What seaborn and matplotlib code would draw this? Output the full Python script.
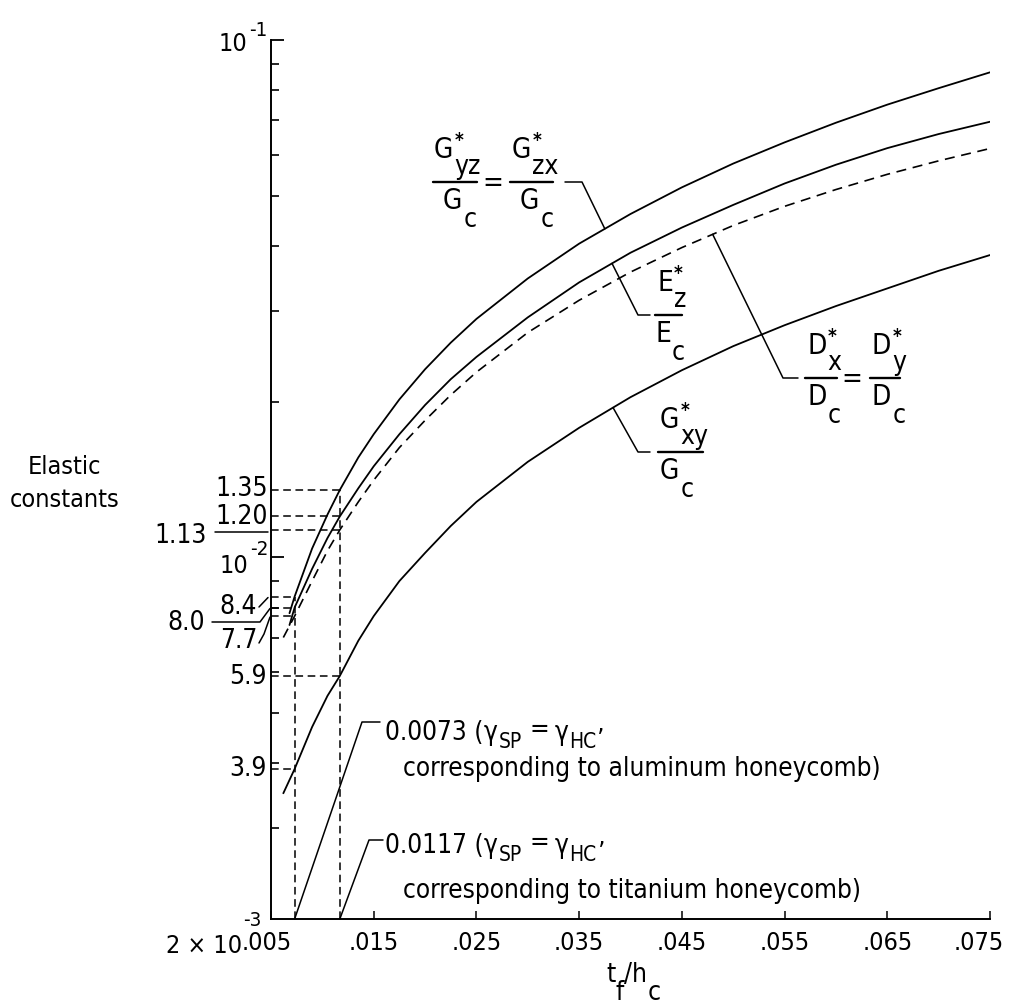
import numpy as np
import pandas as pd
import matplotlib
matplotlib.use("Agg")
import matplotlib.pyplot as plt
from matplotlib.lines import Line2D
from matplotlib.ticker import FixedLocator, NullFormatter
from matplotlib.transforms import ScaledTranslation
from matplotlib import font_manager
import seaborn as sns

# ---- data: t_f/h_c versus normalised elastic constants ----
tf_gyz = [0.0068, 0.0073, 0.009, 0.0105, 0.0117, 0.0135, 0.015, 0.0175, 0.020, 0.0225,
          0.025, 0.030, 0.035, 0.040, 0.045, 0.050, 0.055, 0.060, 0.065, 0.070, 0.075]
gyz = [0.0078, 0.0084, 0.0104, 0.0121, 0.0135, 0.0156, 0.0173, 0.0202, 0.0231, 0.0260,
       0.0289, 0.0346, 0.0404, 0.0461, 0.0519, 0.0577, 0.0634, 0.0692, 0.0750, 0.0807, 0.0866]

tf_ez = [0.0068, 0.0073, 0.009, 0.0105, 0.0117, 0.0135, 0.015, 0.0175, 0.020, 0.0225,
         0.025, 0.030, 0.035, 0.040, 0.045, 0.050, 0.055, 0.060, 0.065, 0.070, 0.075]
ez = [0.0074, 0.0080, 0.0095, 0.0109, 0.0120, 0.0136, 0.0150, 0.0173, 0.0197, 0.0221,
      0.0244, 0.0291, 0.0340, 0.0388, 0.0434, 0.0480, 0.0528, 0.0574, 0.0618, 0.0658, 0.0695]

tf_dx = [0.0062, 0.0073, 0.009, 0.0105, 0.0117, 0.0135, 0.015, 0.0175, 0.020, 0.0225,
         0.025, 0.030, 0.035, 0.040, 0.045, 0.050, 0.055, 0.060, 0.065, 0.070, 0.075]
dx = [0.0070, 0.0077, 0.0090, 0.0103, 0.0113, 0.0128, 0.0141, 0.0163, 0.0184, 0.0206,
      0.0228, 0.0272, 0.0314, 0.0356, 0.0397, 0.0438, 0.0477, 0.0514, 0.0550, 0.0584, 0.0617]

tf_gxy = [0.0062, 0.0073, 0.009, 0.0105, 0.0117, 0.0135, 0.015, 0.0175, 0.020, 0.0225,
          0.025, 0.030, 0.035, 0.040, 0.045, 0.050, 0.055, 0.060, 0.065, 0.070, 0.075]
gxy = [0.0035, 0.0039, 0.0047, 0.0054, 0.0059, 0.0069, 0.0077, 0.0090, 0.0102, 0.0115,
       0.0128, 0.0153, 0.0178, 0.0204, 0.0230, 0.0256, 0.0281, 0.0306, 0.0331, 0.0358, 0.0384]

# marked design points
t_al, t_ti = 0.0073, 0.0117
marks_al = {"gyz": 0.0084, "ez": 0.0080, "dx": 0.0077, "gxy": 0.0039}
marks_ti = {"gyz": 0.0135, "ez": 0.0120, "dx": 0.0113, "gxy": 0.0059}

xticks = [0.005, 0.015, 0.025, 0.035, 0.045, 0.055, 0.065, 0.075]
xticklabels = [".005", ".015", ".025", ".035", ".045", ".055", ".065", ".075"]
y_min, y_max = 0.002, 0.1

# ---- style ----
sns.set_theme(style="ticks")
ttf = font_manager.fontManager.ttflist
names = {f.name for f in ttf}
if "Liberation Sans Narrow" in names:
    FAMILY, STRETCH, K = "Liberation Sans Narrow", "normal", 1.0
elif any(f.name == "DejaVu Sans" and str(f.stretch) in ("condensed", "semi-condensed") for f in ttf):
    FAMILY, STRETCH, K = "DejaVu Sans", "condensed", 0.86
else:
    FAMILY, STRETCH, K = "DejaVu Sans", "normal", 0.78
plt.rcParams["font.family"] = [FAMILY, "DejaVu Sans"]
plt.rcParams["font.stretch"] = STRETCH
plt.rcParams["mathtext.fontset"] = "custom"
for key in ("mathtext.rm", "mathtext.it", "mathtext.bf", "mathtext.sf"):
    plt.rcParams[key] = FAMILY

FS_YLAB = 22 * K
FS_TICK = 21 * K
FS_TEXT = 23 * K * 0.95
FS_FRAC = 20 * (K / 0.86)
INK = "black"

W, H = 1010, 1007
fig = plt.figure(figsize=(W / 100, H / 100), dpi=100)
fig.patch.set_facecolor("white")
ax = fig.add_axes([271 / W, 1 - 919 / H, (990 - 271) / W, (919 - 40) / H])
ax.set_facecolor("white")

df = pd.concat([
    pd.DataFrame({"tf": tf_gyz, "value": gyz, "curve": "gyz"}),
    pd.DataFrame({"tf": tf_ez, "value": ez, "curve": "ez"}),
    pd.DataFrame({"tf": tf_dx, "value": dx, "curve": "dx"}),
    pd.DataFrame({"tf": tf_gxy, "value": gxy, "curve": "gxy"}),
])

for name in ("gyz", "ez", "gxy"):
    sub = df[df.curve == name]
    sns.lineplot(data=sub, x="tf", y="value", ax=ax, color=INK, lw=1.3,
                 estimator=None, sort=False)
sub = df[df.curve == "dx"]
sns.lineplot(data=sub, x="tf", y="value", ax=ax, color=INK, lw=1.2,
             estimator=None, sort=False, linestyle=(0, (6, 4)))

ax.set_yscale("log")
ax.set_xlim(0.005, 0.075)
ax.set_ylim(y_min, y_max)
ax.set_xlabel("")
ax.set_ylabel("")

# dashed read-off lines
dash = dict(color=INK, lw=1.1, linestyle=(0, (5, 3)), clip_on=False)
for t, marks in ((t_al, marks_al), (t_ti, marks_ti)):
    for v in marks.values():
        ax.plot([0.005, t], [v, v], **dash)
    ax.plot([t, t], [y_min, max(marks.values())], **dash)

# axes and ticks
for s in ("top", "right"):
    ax.spines[s].set_visible(False)
for s in ("left", "bottom"):
    ax.spines[s].set_linewidth(1.4)
    ax.spines[s].set_color(INK)
ax.yaxis.set_major_locator(FixedLocator([0.01, 0.1]))
ax.yaxis.set_minor_locator(FixedLocator([0.003, 0.004, 0.005, 0.006, 0.007, 0.008, 0.009,
                                         0.02, 0.03, 0.04, 0.05, 0.06, 0.07, 0.08, 0.09]))
ax.yaxis.set_major_formatter(NullFormatter())
ax.yaxis.set_minor_formatter(NullFormatter())
ax.tick_params(axis="y", which="major", direction="in", length=9, width=1.3, color=INK)
ax.tick_params(axis="y", which="minor", direction="in", length=6, width=1.2, color=INK)
ax.set_xticks(xticks)
ax.set_xticklabels(xticklabels)
ax.xaxis.set_minor_locator(FixedLocator([]))
ax.tick_params(axis="x", which="major", direction="in", length=6, width=1.1, color=INK,
               pad=9, labelsize=FS_TICK, labelcolor=INK)
xlabs = ax.get_xticklabels()
xlabs[0].set_transform(xlabs[0].get_transform() + ScaledTranslation(-0.04, 0, fig.dpi_scale_trans))
xlabs[-1].set_transform(xlabs[-1].get_transform() + ScaledTranslation(-0.11, 0, fig.dpi_scale_trans))

renderer = fig.canvas.get_renderer()


# ---- helpers working in figure pixels (origin top-left) ----
def P(x, y):
    return (x / W, 1 - y / H)


def fig_line(pts, lw=1.1, **kw):
    xs, ys = zip(*[P(*p) for p in pts])
    fig.add_artist(Line2D(xs, ys, transform=fig.transFigure, color=INK, lw=lw, **kw))


def ftext(x, y, s, **kw):
    kw.setdefault("color", INK)
    return fig.text(*P(x, y), s, **kw)


def put(x, base, s, fs, **kw):
    """Left-aligned text on a baseline; returns its right edge in pixels."""
    t = ftext(x, base, s, ha="left", va="baseline", fontsize=fs, **kw)
    return t.get_window_extent(renderer=renderer).x1


def chain(x, base, parts, fs):
    """Run of text pieces, each (text, baseline shift, size factor, gap before)."""
    for s, dy, scale, gap in parts:
        x = put(x + gap, base + dy, s, fs * scale)
    return x


def symbol(x, base, main, sub, fs, star=False, sub_dy=16):
    x1 = put(x, base, main, fs)
    if star:
        put(x1 + 1, base - 12, "*", fs * 0.68, fontweight="bold")
    if sub:
        put(x1 + 1, base + sub_dy, sub, fs * 0.95)


def fraction(bar_l, bar_r, ybar, num, num_x, den, den_x):
    fig_line([(bar_l, ybar), (bar_r, ybar)], lw=1.7)
    symbol(num_x, ybar - 24, num[0], num[1], FS_FRAC, star=True)
    symbol(den_x, ybar + 27, den[0], den[1], FS_FRAC, sub_dy=18)


def data_px(x, y):
    X, Y = ax.transData.transform((x, y))
    return X, H - Y


def on_curve(tf, vals, x):
    return data_px(x, 10 ** np.interp(x, tf, np.log10(vals)))


# ---- x-axis title ----
chain(606, 982, [("t", 0, 1, 0), ("f", 18, 1, 0), ("/h", 0, 1, 1), ("c", 18, 1, 0)], FS_TICK * 1.05)

# ---- y-axis value labels ----
x10 = put(219, 51, "10", FS_YLAB * 0.95)
put(x10 + 1, 36, "-1", FS_YLAB * 0.78)
ftext(268, 489, "1.35", ha="right", va="center", fontsize=FS_YLAB)
ftext(268, 517, "1.20", ha="right", va="center", fontsize=FS_YLAB)
y113 = data_px(0.005, marks_ti["dx"])[1]
fig_line([(215, y113 + 2), (268, y113 + 2)])
ftext(207, 536, "1.13", ha="right", va="center", fontsize=FS_YLAB)
x10 = put(220, 573, "10", FS_YLAB * 0.95)
put(x10 + 1, 555, "-2", FS_YLAB * 0.78)

y84 = data_px(0.005, marks_al["gyz"])[1]
y80 = data_px(0.005, marks_al["ez"])[1]
y77 = data_px(0.005, marks_al["dx"])[1]
ftext(257, 607, "8.4", ha="right", va="center", fontsize=FS_YLAB)
fig_line([(259, 607), (268, y84 + 1)])
ftext(205, 623, "8.0", ha="right", va="center", fontsize=FS_YLAB)
fig_line([(212, 622), (260, 622), (270, y80 + 1)])
ftext(257, 641, "7.7", ha="right", va="center", fontsize=FS_YLAB)
fig_line([(259, 643), (264, 634), (270, y77 + 1)])
ftext(267, 677, "5.9", ha="right", va="center", fontsize=FS_YLAB)
ftext(267, 769, "3.9", ha="right", va="center", fontsize=FS_YLAB)
x10 = put(166, 953, "2 × 10", FS_YLAB * 0.95)
put(x10 + 1, 926, "-3", FS_YLAB * 0.78)

ftext(65, 467, "Elastic", ha="center", va="center", fontsize=21 * K)
ftext(65, 500, "constants", ha="center", va="center", fontsize=21 * K)

# ---- curve labels ----
fraction(433, 477, 182, ("G", "yz"), 434, ("G", "c"), 443)
ftext(493, 183, "=", ha="center", va="center", fontsize=FS_FRAC)
fraction(510, 553, 182, ("G", "zx"), 512, ("G", "c"), 520)
fig_line([(565, 182), (582, 182), on_curve(tf_gyz, gyz, 0.0375)])

fraction(655, 682, 315, ("E", "z"), 657, ("E", "c"), 655)
fig_line([on_curve(tf_ez, ez, 0.0382), (638, 315), (650, 315)])

fraction(805, 837, 378, ("D", "x"), 807, ("D", "c"), 807)
ftext(852, 379, "=", ha="center", va="center", fontsize=FS_FRAC)
fraction(870, 900, 378, ("D", "y"), 872, ("D", "c"), 872)
fig_line([on_curve(tf_dx, dx, 0.0480), (783, 378), (798, 378)])

fraction(658, 703, 452, ("G", "xy"), 660, ("G", "c"), 660)
fig_line([on_curve(tf_gxy, gxy, 0.0383), (638, 452), (650, 452)])

# ---- design-point notes ----
note_parts = [("γ", 0, 1, 0), ("SP", 8, 0.8, 1), ("=", -3, 1, 8), ("γ", 0, 1, 5),
              ("HC", 8, 0.8, 1), ("’", 8, 1, 1)]
fig_line([data_px(t_al, y_min), (362, 722), (380, 722)])
chain(385, 740, [("0.0073 (", 0, 1, 0)] + note_parts, FS_TEXT)
put(403, 776, "corresponding to aluminum honeycomb)", FS_TEXT)

fig_line([data_px(t_ti, y_min), (369, 840), (383, 840)])
chain(385, 853, [("0.0117 (", 0, 1, 0)] + note_parts, FS_TEXT)
put(403, 898, "corresponding to titanium honeycomb)", FS_TEXT)

fig.savefig("out.png", dpi=100, facecolor="white")
